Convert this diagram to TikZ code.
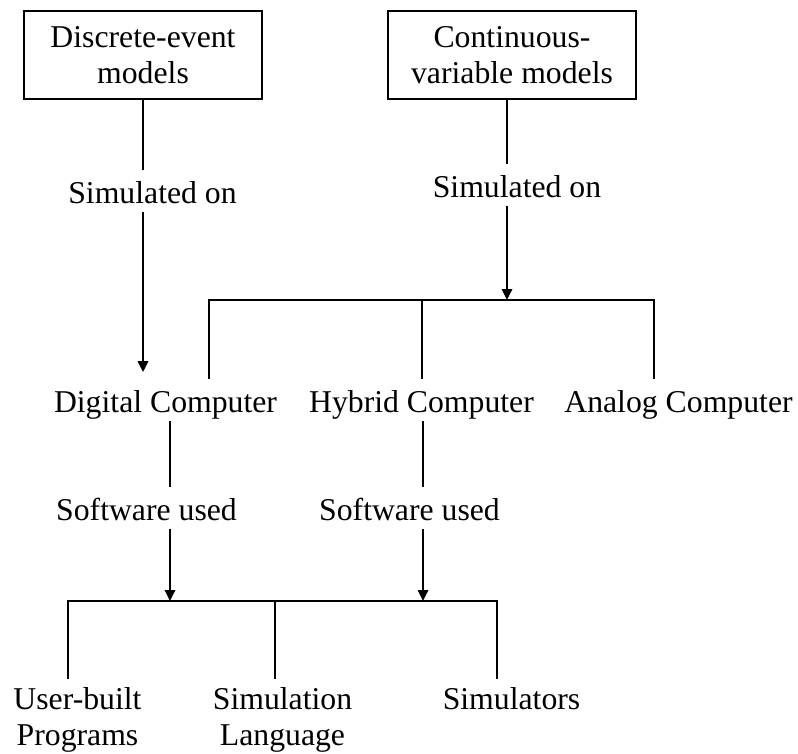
\documentclass[tikz,border=0pt]{standalone}
\usepackage{fontspec}
\setmainfont{Liberation Serif}
\usetikzlibrary{arrows.meta}

\begin{document}
\begin{tikzpicture}[x=0.75pt,y=-0.75pt,line width=1.4pt,
  every node/.style={font=\fontsize{23.8pt}{27pt}\selectfont},
  modelbox/.style={draw,align=center,inner sep=0pt,minimum height=66pt},
  lbl/.style={anchor=base,inner sep=0pt,text height=24pt,text depth=6pt},
  leaf/.style={align=center,anchor=north,inner xsep=0pt,inner ysep=6pt},
  arr/.style={-{Triangle[width=7.8pt,length=8.2pt]}}]
\useasboundingbox (0,0) rectangle (798,753);

\node[modelbox,minimum width=178pt] (de) at (143,55) {Discrete-event\\models};
\node[modelbox,minimum width=186.5pt] (cv) at (512,55) {Continuous-\\variable models};
\node[lbl] (sim1) at (152.5,203) {Simulated on};
\node[lbl] (sim2) at (517,197) {Simulated on};
  \foreach \nm/\kind/\xx in {dc/Digital/165.5,hc/Hybrid/421.5,ac/Analog/678.5}
  {  \node[lbl] (\nm) at (\xx,412) {\kind\ Computer};}
\node[lbl] (sw1) at (146.5,520) {Software used};
\node[lbl] (sw2) at (409.5,520) {Software used};
\node[leaf] (ub) at (77.5,679) {User-built\\Programs};
\node[leaf] (sl) at (282.5,679) {Simulation\\Language};
\node[leaf] (si) at (511.5,679) {Simulators};

% bus bars
\coordinate (k) at (507,300);
\coordinate (b1l) at (209,300);
\coordinate (b1m) at (422,300);
\coordinate (b1r) at (654,300);
\coordinate (b2a) at (170,601);
\coordinate (b2b) at (423,601);
\coordinate (b2l) at (68,601);
\coordinate (b2m) at (275,601);
\coordinate (b2r) at (497,601);

\draw (de.south) -- (de.south |- sim1.north);
\draw[arr,shorten >=5.25pt] (de.south |- sim1.south) -- (de.south |- dc.north);
\draw (cv.south -| k) -- (sim2.north -| k);
\draw[arr] (sim2.south -| k) -- (k);
\draw (dc.north -| b1l) |- (b1r) -- (ac.north -| b1r);
\draw (b1m) -- (hc.north -| b1m);

\draw (dc.south -| b2a) -- (sw1.north -| b2a);
\draw[arr] (sw1.south -| b2a) -- (b2a);
\draw (hc.south -| b2b) -- (sw2.north -| b2b);
\draw[arr] (sw2.south -| b2b) -- (b2b);
\draw (ub.north -| b2l) |- (b2r) -- (si.north -| b2r);
\draw (b2m) -- (sl.north -| b2m);
\end{tikzpicture}
\end{document}
